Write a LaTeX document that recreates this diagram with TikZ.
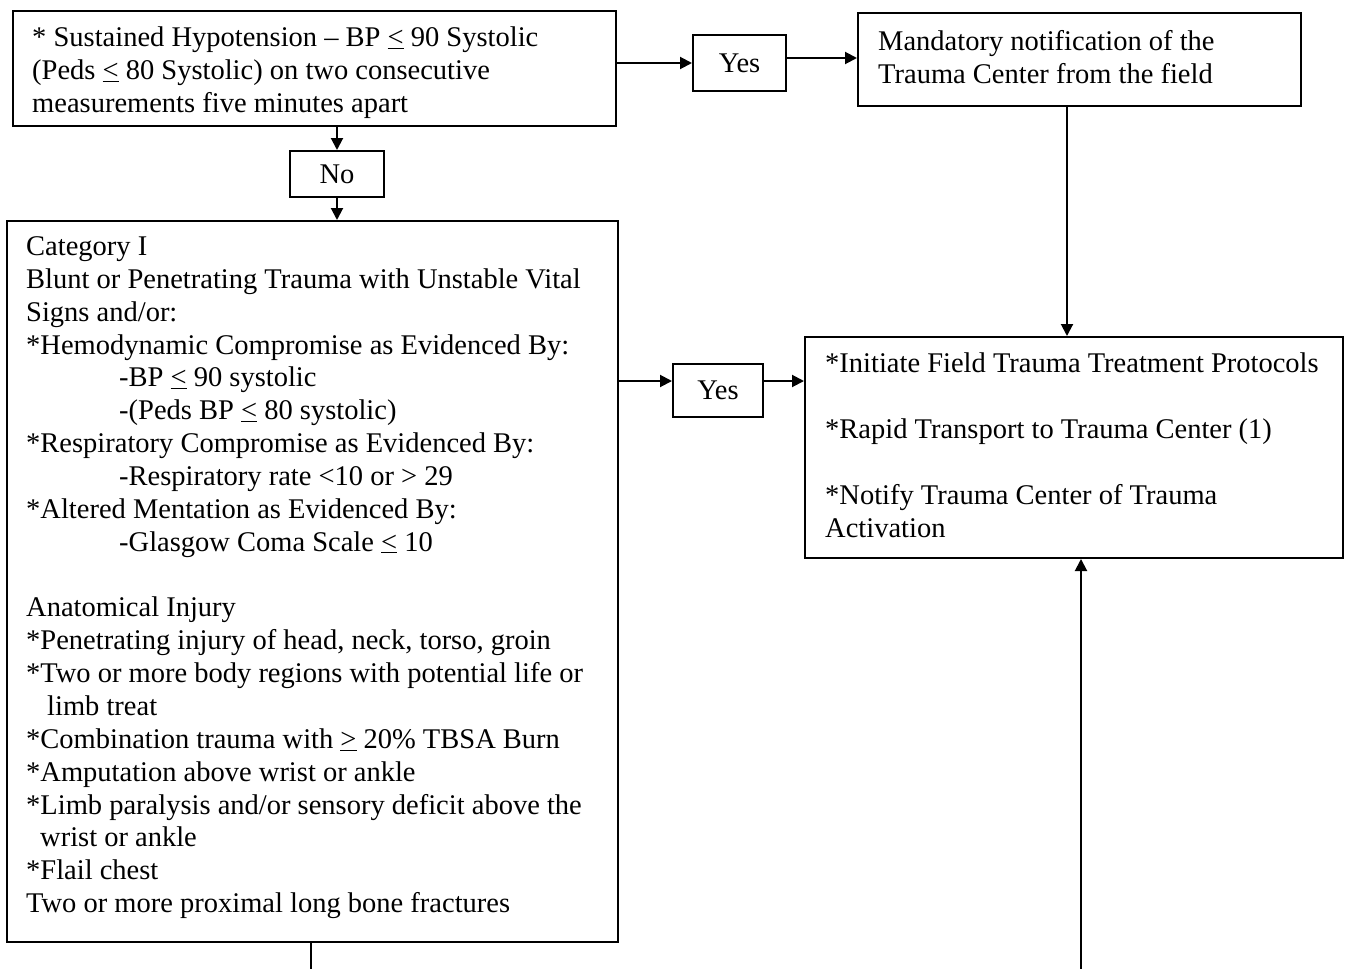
\documentclass[tikz,border=0pt]{standalone}
\usepackage{fontspec}
\setmainfont{Liberation Serif}
\usetikzlibrary{arrows.meta}
\begin{document}
\begin{tikzpicture}[x=1pt,y=-1pt,
  box/.style={draw=black, line width=2pt, inner sep=0pt, anchor=north west,
    font=\fontsize{28.5}{33}\selectfont},
  txt/.style={anchor=north west, inner sep=0pt, align=left,
    font=\fontsize{28.5}{33}\selectfont},
  arr/.style={line width=2pt, -{Triangle[length=12pt,width=12pt]}},
  conn/.style={line width=2pt}]
\useasboundingbox[fill=white] (0,0) rectangle (1347,969);

% boxes
\node[box, minimum width=603pt, minimum height=115pt] (A) at (12,10) {};
\node[box, minimum width=93pt, minimum height=56pt] (Y1) at (692,34) {Yes};
\node[box, minimum width=443pt, minimum height=93pt] (M) at (857,12) {};
\node[box, minimum width=94pt, minimum height=46pt] (N) at (289,150) {No};
\node[box, minimum width=611pt, minimum height=721pt] (C) at (6,220) {};
\node[box, minimum width=90pt, minimum height=53pt] (Y2) at (672,363) {Yes};
\node[box, minimum width=538pt, minimum height=221pt] (I) at (804,336) {};

% texts
\node[txt] (At) at (32,27) {* Sustained Hypotension -- BP \underline{<} 90 Systolic\\
(Peds \underline{<} 80 Systolic) on two consecutive\\
measurements five minutes apart};
\node[txt] (Mt) at (878,30.5) {Mandatory notification of the\\
Trauma Center from the field};
\node[txt] (It) at (825,353) {*Initiate Field Trauma Treatment Protocols\\[33pt]
*Rapid Transport to Trauma Center (1)\\[33pt]
*Notify Trauma Center of Trauma\\
Activation};
\node[txt, font=\fontsize{28.5}{32.85}\selectfont] (Ct) at (26,236.5) {Category I\\
Blunt or Penetrating Trauma with Unstable Vital\\
Signs and/or:\\
*Hemodynamic Compromise as Evidenced By:\\
\hspace*{93pt}-BP \underline{<} 90 systolic\\
\hspace*{93pt}-(Peds BP \underline{<} 80 systolic)\\
*Respiratory Compromise as Evidenced By:\\
\hspace*{93pt}-Respiratory rate <10 or > 29\\
*Altered Mentation as Evidenced By:\\
\hspace*{93pt}-Glasgow Coma Scale \underline{<} 10\\[32.85pt]
Anatomical Injury\\
*Penetrating injury of head, neck, torso, groin\\
*Two or more body regions with potential life or\\
\hspace*{21pt}limb treat\\
*Combination trauma with \underline{>} 20\% TBSA Burn\\
*Amputation above wrist or ankle\\
*Limb paralysis and/or sensory deficit above the\\
\hspace*{14pt}wrist or ankle\\
*Flail chest\\
Two or more proximal long bone fractures};

% helper coordinates
\coordinate (ym) at (0,58);
\coordinate (xm) at (1067,0);
\coordinate (yc) at (0,381);
\coordinate (b1) at (311,969);
\coordinate (b2) at (1081,969);

% connectors
\draw[arr] (Y1.west -| A.east) -- (Y1.west);
\draw[arr] (Y1.east |- ym) -- (M.west |- ym);
\draw[arr] (xm |- M.south) -- (xm |- I.north);
\draw[arr] (N.north |- A.south) -- (N.north);
\draw[arr] (N.south) -- (N.south |- C.north);
\draw[arr] (C.east |- yc) -- (Y2.west |- yc);
\draw[arr] (Y2.east |- yc) -- (I.west |- yc);
\draw[conn] (C.south -| b1) -- (b1);
\draw[arr] (b2) -- (b2 |- I.south);
\end{tikzpicture}
\end{document}
